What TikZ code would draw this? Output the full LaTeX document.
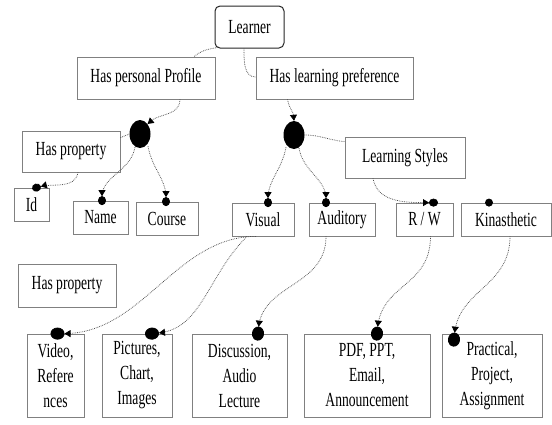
\documentclass[tikz,border=0pt]{standalone}
\usepackage{fontspec}
\setmainfont{Liberation Serif}[FakeStretch=0.68]
\usetikzlibrary{arrows.meta,shapes.geometric,calc}

\begin{document}
\begin{tikzpicture}[x=1pt,y=-1pt,
  box/.style={draw=black!50, line width=0.8pt, fill=white, inner sep=0pt,
    minimum height=33pt, font=\fontsize{20}{25}\selectfont, text=black},
  tallbox/.style={box, align=center, minimum height=83pt},
  hub/.style={ellipse, fill=black, minimum width=21pt, minimum height=28pt, inner sep=0pt},
  conn/.style={draw=black!70, densely dotted, line width=0.75pt},
  tohub/.style={conn, -{Triangle[length=6pt,width=7pt,color=black]}},
  tosmall/.style={conn, shorten >=-4.5pt,
    -{Triangle[length=6pt,width=7pt,color=black] Circle[length=9pt,width=8pt,color=black]}},
  tobig/.style={conn, shorten >=-7pt,
    -{Triangle[length=6pt,width=7pt,color=black] Circle[length=14pt,width=12pt,color=black]}},
  dotmark/.style={circle, fill=black, minimum size=8pt, inner sep=0pt}
]
\useasboundingbox (0,0) rectangle (552,424);

% boxes
\node[box, rounded corners=5pt, draw=black!85, line width=1pt, minimum width=69pt, minimum height=42pt] (L) at (249.5,27) {Learner};
\node[box, minimum width=138pt, minimum height=42pt] (HPP) at (146,78) {Has personal Profile};
\node[box, minimum width=157pt, minimum height=42pt] (HLP) at (334.5,78) {Has learning preference};
\node[hub] (b1) at (140,134) {};
\node[hub] (b2) at (294,135) {};
\node[box, minimum width=98pt, minimum height=41pt] (HP1) at (71,151.5) {Has property};
\node[box, minimum width=120pt, minimum height=41pt] (LS) at (405,157.5) {Learning Styles};
\node[box, minimum width=35pt] (Id) at (31.5,204.5) {Id};
\node[box, minimum width=55pt] (Nm) at (100.5,217.5) {Name};
\node[box, minimum width=62pt] (Co) at (167,218.5) {Course};
\node[box, minimum width=62pt] (Vi) at (263,219.5) {Visual};
\node[box, minimum width=66pt] (Au) at (342,219.5) {Auditory};
\node[box, minimum width=57pt] (RW) at (424.5,219.5) {R / W};
\node[box, minimum width=90pt] (Ki) at (506,219.5) {Kinasthetic};
\node[box, minimum width=98pt, minimum height=43pt] (HP2) at (67,285.5) {Has property};
\node[tallbox, minimum width=57pt] (Vd) at (55.5,375.5) {Video,\\Refere\\nces};
\node[tallbox, minimum width=70pt] (Pi) at (137,375.5) {Pictures,\\Chart,\\Images};
\node[tallbox, minimum width=95pt] (Di) at (239.5,375.5) {Discussion,\\Audio\\Lecture};
\node[tallbox, minimum width=126pt] (Pd) at (367,375.5) {PDF, PPT,\\Email,\\Announcement};
\node[tallbox, minimum width=100pt] (Pr) at (492,375.5) {Practical,\\Project,\\Assignment};

% upper connectors
\draw[conn] ([xshift=3pt,yshift=1pt]L.south west) to[out=190,in=40] ([xshift=48pt]HPP.north);
\draw[conn] ([xshift=-5.5pt]L.south) to[out=-90,in=180] ([yshift=1pt]HLP.west);
\draw[tohub] ([xshift=34pt]HPP.south) to[out=-90,in=40] (b1.north east);
\draw[tohub] ([xshift=-47pt]HLP.south) to[out=-80,in=95] (b2.north);
\draw[conn] (b1.west) -- ([yshift=-7pt]HP1.north east);
\draw[conn] (b2.east) to[out=0,in=175] ([yshift=-5pt]LS.north west);

% properties and learning styles
\draw[tosmall] ([xshift=7pt]HP1.south) to[out=-100,in=15] ([xshift=5pt]Id.north);
\draw[tosmall] ([xshift=-5pt,yshift=1pt]b1.south) to[out=-100,in=90] ([xshift=1.5pt]Nm.north);
\draw[tosmall] ([xshift=8pt,yshift=2pt]b1.south) to[out=-80,in=90] ([xshift=-1pt]Co.north);
\draw[tosmall] ([xshift=-8pt,yshift=2pt]b2.south) to[out=-100,in=90] ([xshift=5pt]Vi.north);
\draw[tosmall] ([xshift=5pt,yshift=1pt]b2.south) to[out=-80,in=90] ([xshift=-16pt]Au.north);
\draw[tosmall] ([xshift=-32pt]LS.south) to[out=-80,in=180] ([xshift=9pt]RW.north);
\node[dotmark] (kd) at ([xshift=-17pt]Ki.north) {};

% media connectors
\draw[tobig] ([xshift=-7pt]Vi.south) .. controls +(-80,0) and +(85,0) .. ([xshift=2pt]Vd.north);
\draw[tobig] ([xshift=-16pt]Vi.south) .. controls +(-40,40) and +(50,-5) .. ([xshift=15pt]Pi.north);
\draw[tobig] ([xshift=-16pt]Au.south) .. controls +(0,50) and +(5,-50) .. ([xshift=18.5pt]Di.north);
\draw[tobig] ([xshift=6pt]RW.south) .. controls +(0,50) and +(5,-50) .. ([xshift=10pt]Pd.north);
\draw[tobig] ([xshift=4pt]Ki.south) .. controls +(0,50) and +(5,-50) .. ([xshift=-38pt,yshift=-6pt]Pr.north);
\end{tikzpicture}
\end{document}
